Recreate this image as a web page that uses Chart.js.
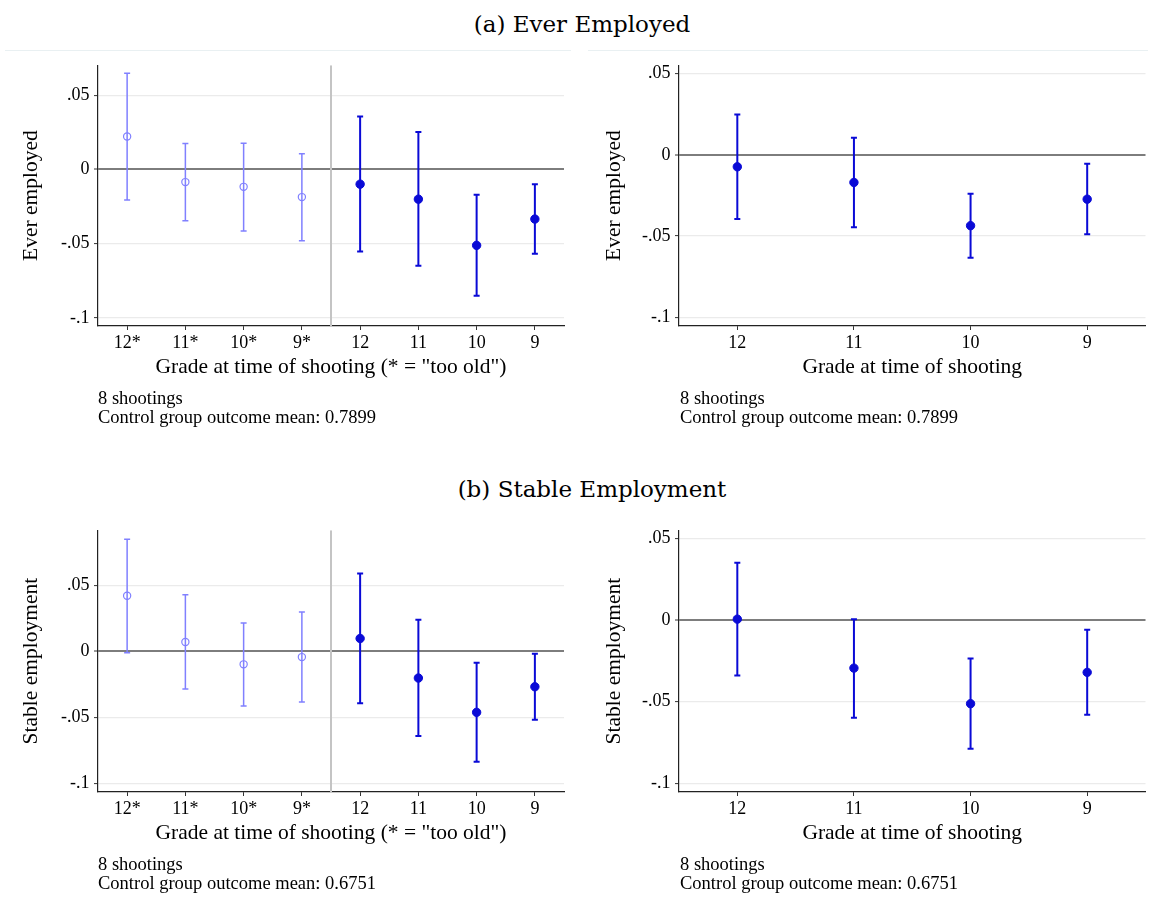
<!DOCTYPE html>
<html>
<head>
<meta charset="utf-8">
<title>Employment effects by grade</title>
<script src="https://cdn.jsdelivr.net/npm/chart.js@4.4.0/dist/chart.umd.min.js"></script>
<style>
  body { margin: 0; background: #fff; width: 1152px; height: 905px; position: relative; overflow: hidden;
         font-family: "Liberation Serif", "Times New Roman", serif; color: #000; }
  canvas { position: absolute; }
  .panel-title { position: absolute; font-family: "DejaVu Serif", serif; font-size: 23px; line-height: 28px;
                 white-space: nowrap; transform: translateX(-50%); }
  .note { position: absolute; font-size: 18.5px; line-height: 19px; white-space: nowrap; }
  .frame { position: absolute; top: 50px; height: 0; border-top: 1px solid #e9f0f2; }
</style>
</head>
<body>

<div class="panel-title" style="left:582px; top:10px;">(a) Ever Employed</div>
<div class="frame" style="left:5px; width:566px;"></div>
<div class="frame" style="left:588px; width:560px;"></div>
<canvas id="everAll" width="576" height="340" style="left:0; top:50px;"></canvas>
<canvas id="everYoung" width="576" height="340" style="left:576px; top:50px;"></canvas>
<div class="note" style="left:98px; top:389px;">8 shootings<br>Control group outcome mean: 0.7899</div>
<div class="note" style="left:680px; top:389px;">8 shootings<br>Control group outcome mean: 0.7899</div>

<div class="panel-title" style="left:592px; top:475px;">(b) Stable Employment</div>
<canvas id="stableAll" width="576" height="340" style="left:0; top:515px;"></canvas>
<canvas id="stableYoung" width="576" height="340" style="left:576px; top:515px;"></canvas>
<div class="note" style="left:98px; top:855px;">8 shootings<br>Control group outcome mean: 0.6751</div>
<div class="note" style="left:680px; top:855px;">8 shootings<br>Control group outcome mean: 0.6751</div>

<script>
/* ------------------------------
   Data
   ------------------------------ */
const gradesAll   = ["12*", "11*", "10*", "9*", "12", "11", "10", "9"];
const gradesYoung = ["12", "11", "10", "9"];
const yTicks      = [-0.1, -0.05, 0, 0.05];
const yTickLabels = ["-.1", "-.05", "0", ".05"];
const tooOldCutoff = 4.5;   // gray divider between "too old" and eligible grades

/* (a) Ever employed */
const everAllEst = [0.0222, -0.0085, -0.0117, -0.0186, -0.0099, -0.0200, -0.0511, -0.0334];
const everAllLo  = [-0.0206, -0.0345, -0.0415, -0.0480, -0.0552, -0.0648, -0.0850, -0.0567];
const everAllHi  = [0.0648, 0.0175, 0.0177, 0.0105, 0.0357, 0.0253, -0.0170, -0.0099];
const everEst = [-0.0074, -0.0170, -0.0436, -0.0273];
const everLo  = [-0.0395, -0.0445, -0.0633, -0.0488];
const everHi  = [0.0248, 0.0105, -0.0240, -0.0055];

/* (b) Stable employment */
const stableAllEst = [0.0422, 0.0071, -0.0098, -0.0043, 0.0098, -0.0202, -0.0462, -0.0268];
const stableAllLo  = [-0.0010, -0.0285, -0.0414, -0.0384, -0.0394, -0.0641, -0.0836, -0.0518];
const stableAllHi  = [0.0851, 0.0429, 0.0215, 0.0298, 0.0591, 0.0240, -0.0086, -0.0018];
const stableEst = [0.0006, -0.0294, -0.0512, -0.0320];
const stableLo  = [-0.0339, -0.0598, -0.0788, -0.0580];
const stableHi  = [0.0351, 0.0006, -0.0235, -0.0059];

/* y ranges of each panel */
const everAllRange    = [-0.1054, 0.0702];
const everYoungRange  = [-0.1053, 0.0551];
const stableAllRange  = [-0.1066, 0.0919];
const stableYoungRange = [-0.1053, 0.0551];

/* ------------------------------
   Styles
   ------------------------------ */
const LIGHT = "#8080ff";
const DARK  = "#0a0ad6";
const SERIF = "'Liberation Serif', 'Times New Roman', serif";
const isOld = (lab) => lab.endsWith("*");

/* Error bars (drawn under the markers) */
function errorBarPlugin(labels, lo, hi) {
  return {
    id: "errorBars",
    beforeDatasetsDraw(chart) {
      const { ctx, scales: { x, y } } = chart;
      ctx.save();
      labels.forEach((lab, i) => {
        const px = x.getPixelForValue(i + 1);
        const top = y.getPixelForValue(hi[i]);
        const bot = y.getPixelForValue(lo[i]);
        const old = isOld(lab);
        ctx.strokeStyle = old ? LIGHT : DARK;
        ctx.lineWidth = old ? 1.5 : 2;
        ctx.beginPath();
        ctx.moveTo(px, top); ctx.lineTo(px, bot);
        ctx.moveTo(px - 3, top); ctx.lineTo(px + 3, top);
        ctx.moveTo(px - 3, bot); ctx.lineTo(px + 3, bot);
        ctx.stroke();
      });
      ctx.restore();
    }
  };
}

function drawPanel(id, labels, est, lo, hi, range, yTitle, xTitle, lay) {
  const datasets = [];
  if (labels.some(isOld)) {
    datasets.push({
      type: "line",
      data: [{ x: tooOldCutoff, y: range[0] }, { x: tooOldCutoff, y: range[1] }],
      borderColor: "#c4c4c4", borderWidth: 2, pointRadius: 0, showLine: true, order: 2
    });
  }
  datasets.push({
    type: "scatter",
    data: est.map((v, i) => ({ x: i + 1, y: v })),
    pointStyle: "circle",
    pointRadius: labels.map(l => isOld(l) ? 3.6 : 4.2),
    pointBorderWidth: labels.map(l => isOld(l) ? 1.2 : 1),
    pointBorderColor: labels.map(l => isOld(l) ? LIGHT : DARK),
    pointBackgroundColor: labels.map(l => isOld(l) ? "rgba(255,255,255,0)" : DARK),
    order: 1
  });

  return new Chart(document.getElementById(id), {
    type: "scatter",
    data: { datasets },
    options: {
      responsive: false,
      animation: false,
      layout: { padding: { top: 15, right: lay.padRight, bottom: 0, left: 0 } },
      plugins: { legend: { display: false }, tooltip: { enabled: false } },
      scales: {
        x: {
          type: "linear", min: 0.5, max: labels.length + 0.5,
          afterBuildTicks: (ax) => { ax.ticks = labels.map((_, i) => ({ value: i + 1 })); },
          afterFit: (ax) => { ax.height = lay.xHeight; },
          ticks: { callback: (v, i) => labels[i], color: "#000", padding: 2, maxRotation: 0, autoSkip: false,
                   font: { family: SERIF, size: 18 } },
          grid: { drawOnChartArea: false, tickLength: 4, tickColor: "#333", tickWidth: 1 },
          border: { color: "#222", width: 1.2 },
          title: { display: true, text: xTitle, color: "#000", font: { family: SERIF, size: 21.5 },
                   padding: { top: 0, bottom: lay.xTitlePad } }
        },
        y: {
          min: range[0], max: range[1],
          afterBuildTicks: (ax) => { ax.ticks = yTicks.map(v => ({ value: v })); },
          afterFit: (ax) => { ax.width = lay.yWidth; },
          ticks: { callback: (v, i) => yTickLabels[i], color: "#000", padding: 4.4,
                   font: { family: SERIF, size: 18 } },
          grid: {
            color: (c) => (c.tick && c.tick.value === 0) ? "#7d7d7d" : "#ebebeb",
            lineWidth: (c) => (c.tick && c.tick.value === 0) ? 2 : 1.2,
            tickLength: 4, tickColor: "#333", tickWidth: 1
          },
          border: { color: "#222", width: 1.2 },
          title: { display: true, text: yTitle, color: "#000", font: { family: SERIF, size: 21.5 },
                   padding: { top: lay.yTitlePad, bottom: 0 } }
        }
      }
    },
    plugins: [errorBarPlugin(labels, lo, hi)]
  });
}

/* Boot */
const xAll = 'Grade at time of shooting (* = "too old")';
const xYoung = "Grade at time of shooting";

drawPanel("everAll", gradesAll, everAllEst, everAllLo, everAllHi, everAllRange, "Ever employed", xAll,
  { padRight: 12, yWidth: 98, xHeight: 64, yTitlePad: 18, xTitlePad: 10 });
drawPanel("everYoung", gradesYoung, everEst, everLo, everHi, everYoungRange, "Ever employed", xYoung,
  { padRight: 6.5, yWidth: 103, xHeight: 64, yTitlePad: 25, xTitlePad: 10 });
drawPanel("stableAll", gradesAll, stableAllEst, stableAllLo, stableAllHi, stableAllRange, "Stable employment", xAll,
  { padRight: 12, yWidth: 98, xHeight: 63, yTitlePad: 18, xTitlePad: 9 });
drawPanel("stableYoung", gradesYoung, stableEst, stableLo, stableHi, stableYoungRange, "Stable employment", xYoung,
  { padRight: 6.5, yWidth: 103, xHeight: 63, yTitlePad: 25, xTitlePad: 9 });
</script>
</body>
</html>
